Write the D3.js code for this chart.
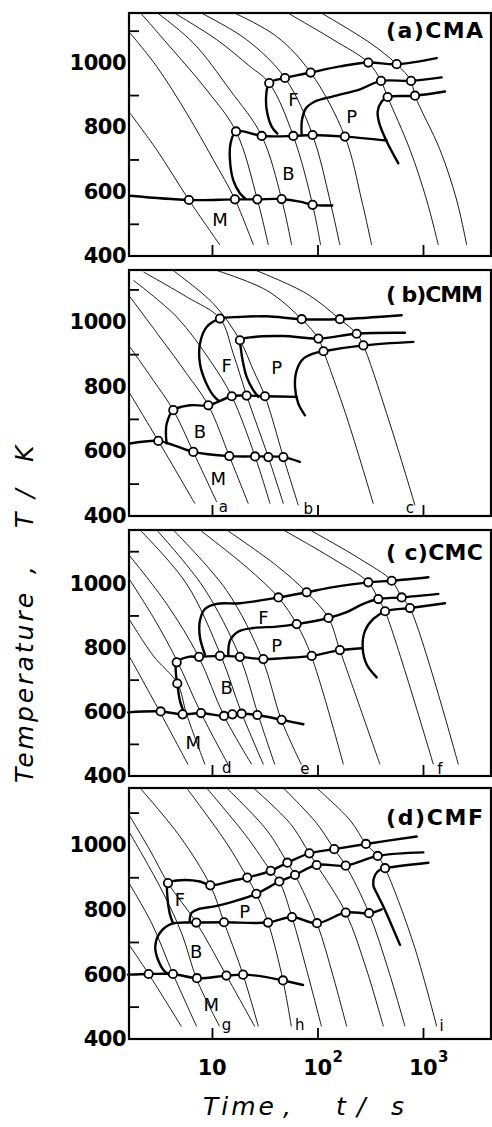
<!DOCTYPE html>
<html>
<head>
<meta charset="utf-8">
<script src="https://cdn.jsdelivr.net/npm/d3@7/dist/d3.min.js"></script>
<style>
  body { margin: 0; background: #fff; }
  text { font-family: "DejaVu Sans", sans-serif; fill: #000; }
</style>
</head>
<body>
<div id="chart"></div>
<script>
// ---- data (time in s, temperature in K) ----
var panelTitles = ["(a)CMA", "( b)CMM", "( c)CMC", "(d)CMF"];
var yTicks = [400, 600, 800, 1000];
var yMinor = [500, 700, 900, 1100];
var xTicks = [10, 100, 1000];
var xTickBase = ["10", "10", "10"];
var xTickExp = ["", "2", "3"];

// (a) CMA
var coolA = [
  [[1.67,844],[2.99,730],[6.05,574],[11.9,434]],
  [[1.67,1093],[2.99,989],[5.75,844],[10.3,699],[16.5,576],[24.7,434]],
  [[2.08,1157],[3.72,1062],[8.9,916],[16.9,787],[26.9,576],[34.2,434]],
  [[2.99,1157],[6.65,1062],[14.8,916],[29.6,773],[45.7,577],[56.9,434]],
  [[4.3,1157],[11.1,1072],[22.9,989],[34.9,937],[59,773],[89.9,559],[107,434]],
  [[7.69,1157],[21.3,1072],[49.2,953],[89.9,776],[131,574],[163,434]],
  [[15.9,1157],[41,1082],[86.1,970],[182,771],[262,574],[326,434]],
  [[51,1157],[141,1072],[303,1001],[400,944],[462,894],[753,730],[1083,574],[1397,434]],
  [[106,1157],[315,1062],[563,996],[770,944],[840,898],[1449,730],[2084,574],[2595,434]]
];
var fsA = [[41.6,780],[36.8,802],[33.4,844],[32.5,885],[34.9,937],[49.2,953],[86.1,970],[163,989],[303,1001],[563,996],[1349,1015]];
var psA = [[70.8,776],[71.3,823],[77.8,859],[94.6,880],[141,896],[253,918],[400,944],[770,944],[1503,955]];
var pfA = [[584,688],[453,756],[385,813],[372,849],[406,880],[462,894],[840,898],[1615,911]];
var bsA = [[20.6,579],[18.4,595],[15.9,636],[14.8,699],[15.0,750],[16.9,787],[29.6,773],[59,773],[89.9,776],[182,771],[453,759]];
var msA = [[1.67,587],[6.05,574],[16.5,576],[26.9,576],[45.7,577],[68.2,569],[89.9,559],[138,557]];
var dotsA = [[34.9,937],[49.2,953],[86.1,970],[303,1001],[563,996],[400,944],[770,944],[462,894],[840,898],
  [16.9,787],[29.6,773],[59,773],[89.9,776],[182,771],[6.05,574],[16.5,576],[26.9,576],[45.7,577],[89.9,559]];
var phaseA = [["F",59,885],["P",211,833],["B",52.9,657],["M",11.9,512]];
var letterA = [];

// (b) CMM
var coolB = [
  [[1.67,778],[3.10,632],[6.9,438]],
  [[1.67,922],[2.78,819],[4.30,727],[6.65,598],[11.1,443]],
  [[1.67,1077],[3.21,953],[5.75,840],[9.23,742],[14.6,585],[22.1,438]],
  [[1.80,1128],[4.63,1015],[9.57,881],[15.4,770],[25.6,584],[35.5,438]],
  [[2.24,1154],[5.75,1077],[11.9,1010],[15.9,902],[21.3,772],[34.2,582],[47.5,438]],
  [[4.30,1158],[10.3,1056],[18.4,943],[24.7,850],[31.8,770],[47.5,582],[65.8,433]],
  [[10.3,1162],[33,1097],[70.8,1008],[102,948],[114,909],[189,706],[338,438]],
  [[24.7,1162],[78.9,1087],[163,1008],[235,963],[272,927],[486,685],[840,433]]
];
var fsB = [[11.5,757],[10.3,772],[8.58,819],[7.69,871],[7.69,932],[8.9,984],[11.9,1010],[18.4,1015],[33,1017],[70.8,1008],[163,1008],[628,1020]];
var psB = [[27.5,768],[24.7,788],[21.3,830],[19.5,881],[18.7,922],[18.4,943],[24.7,953],[47.5,956],[102,948],[235,963],[675,966]];
var pfB = [[76.1,711],[65.8,747],[61.2,799],[63.5,850],[73.5,886],[91.3,902],[114,909],[272,927],[810,938]];
var bsB = [[3.72,624],[3.66,654],[3.72,685],[4.30,727],[6.19,742],[9.23,742],[15.4,770],[21.3,772],[31.8,770],[63.5,768]];
var msB = [[1.67,624],[3.10,632],[4.30,619],[6.65,598],[14.6,585],[25.6,584],[47.5,582],[68.2,567]];
var dotsB = [[11.9,1010],[70.8,1008],[163,1008],[18.4,943],[102,948],[235,963],[114,909],[272,927],
  [4.30,727],[9.23,742],[15.4,770],[21.3,772],[31.8,770],[3.10,632],[6.65,598],[14.6,585],[25.6,584],[34.2,582],[47.5,582]];
var phaseB = [["F",13.8,866],["P",41,860],["B",7.69,660],["M",11.5,515]];
var letterB = [["a",12.8,428],["b",81.9,423],["c",753,426]];

// (c) CMC
var coolC = [
  [[1.60,780],[3.19,601],[5.92,436]],
  [[1.60,894],[2.78,774],[4.69,689],[5.75,592],[8.58,436]],
  [[1.60,1019],[2.78,894],[4.69,757],[7.81,598],[14.2,436]],
  [[1.60,1092],[3.72,936],[7.48,771],[13.0,587],[23.8,436]],
  [[2.08,1166],[5.75,998],[12.1,776],[19.0,598],[30.7,436]],
  [[2.99,1166],[8.28,988],[18.3,772],[27.3,592],[39.3,436]],
  [[4.30,1166],[13.8,977],[30.0,764],[45.4,575],[70.3,436]],
  [[7.69,1166],[21.3,1050],[42.6,956],[63.5,873],[87.4,774],[176,436]],
  [[13.8,1166],[41.0,1055],[78.9,972],[127,892],[163,792],[391,436]],
  [[47.5,1166],[141,1076],[303,1003],[377,951],[437,913],[1253,436]],
  [[84.9,1166],[253,1076],[505,1008],[628,956],[753,923],[2163,436]]
];
var fsC = [[8.58,778],[7.69,832],[7.69,884],[8.58,920],[11.1,936],[18.4,938],[42.6,956],[78.9,972],[141,988],[303,1003],[505,1008],[1125,1019]];
var psC = [[14.3,776],[14.8,821],[17.8,850],[24.7,861],[41.0,865],[63.5,873],[127,892],[189,910],[272,936],[377,951],[628,956],[1397,967]];
var pfC = [[364,707],[292,748],[268,800],[282,852],[338,889],[437,913],[753,923],[1617,938]];
var bsC = [[5.43,598],[4.97,634],[4.69,688],[4.56,717],[4.63,754],[5.97,771],[7.54,771],[11.9,774],[18.4,771],[30.7,764],[47.5,767],[88.1,774],[163,792],[262,798]];
var msC = [[1.60,598],[3.26,601],[5.27,592],[7.87,596],[13.0,587],[15.6,592],[19.1,594],[26.9,590],[45.7,575],[73.5,561]];
var dotsC = [[42.6,956],[78.9,972],[303,1003],[505,1008],[63.5,873],[127,892],[377,951],[628,956],[437,913],[753,923],
  [4.63,754],[7.54,771],[11.9,774],[18.4,771],[30.7,764],[88.1,774],[163,792],[4.69,688],
  [3.26,601],[5.27,592],[7.87,596],[13.0,587],[15.6,592],[19.1,594],[26.9,590],[45.7,575]];
var phaseC = [["F",30.7,894],["P",41,806],["B",13.8,676],["M",6.65,504]];
var letterC = [["d",13.8,426],["e",76.1,421],["f",1449,421]];

// (d) CMF
var coolD = [
  [[1.60,696],[2.51,601],[5.12,439]],
  [[1.60,887],[2.68,758],[4.27,601],[7.15,439]],
  [[1.60,1046],[3.21,871],[5.16,727],[7.20,583],[11.8,439]],
  [[1.60,1098],[2.58,984],[3.83,882],[7.10,760],[13.7,596],[25.4,439]],
  [[2.08,1176],[4.97,1026],[9.64,875],[13.0,761],[19.7,599],[27.5,439]],
  [[5.75,1176],[13.8,1005],[21.6,899],[26.3,849],[34.0,760],[47.1,581],[56.5,439]],
  [[8.90,1176],[21.3,1026],[36.0,920],[43.5,887],[57.3,777],[78.9,614],[109,439]],
  [[13.8,1176],[33.0,1046],[51.8,945],[61.2,907],[98.9,758],[141,593],[189,439]],
  [[24.7,1176],[54.8,1067],[83.8,974],[98.2,938],[185,791],[292,614],[421,439]],
  [[47.5,1176],[98.2,1067],[144,987],[185,936],[308,789],[469,614],[675,439]],
  [[98.2,1176],[203,1077],[288,1003],[372,966],[437,928],[810,696],[1349,439]]
];
var fsD = [[4.27,758],[3.97,789],[3.78,840],[3.83,882],[4.63,890],[7.69,887],[9.64,875],[15.9,890],[21.6,899],[36.0,920],[51.8,945],[83.8,974],[144,987],[288,1003],[871,1026]];
var psD = [[6.14,762],[6.37,789],[7.36,801],[10.6,810],[15.9,825],[26.3,849],[43.5,887],[61.2,907],[98.2,938],[185,936],[372,966],[1007,977]];
var pfD = [[605,691],[421,810],[364,851],[338,876],[351,907],[391,923],[437,928],[1125,945]];
var bsD = [[3.97,599],[3.56,609],[3.08,645],[2.90,686],[3.19,727],[4.12,756],[7.10,760],[13.0,761],[34.0,760],[57.3,777],[98.9,758],[185,791],[308,789],[406,801]];
var msD = [[1.60,599],[2.51,601],[4.27,601],[7.20,588],[13.7,596],[19.7,599],[30.7,593],[47.1,581],[72.9,567]];
var dotsD = [[3.83,882],[9.64,875],[21.6,899],[36.0,920],[51.8,945],[83.8,974],[144,987],[288,1003],
  [26.3,849],[43.5,887],[61.2,907],[98.2,938],[185,936],[372,966],[437,928],
  [7.10,760],[13.0,761],[34.0,760],[57.3,777],[98.9,758],[185,791],[308,789],
  [2.51,601],[4.27,601],[7.20,588],[13.7,596],[19.7,599],[47.1,581]];
var phaseD = [["F",4.97,830],["P",20.4,794],["B",7.10,671],["M",9.86,506]];
var letterD = [["g",13.7,444],["h",67.8,444],["i",1503,439]];

var coolSets = [coolA, coolB, coolC, coolD];
var bandSets = [[fsA, psA, pfA, bsA, msA], [fsB, psB, pfB, bsB, msB], [fsC, psC, pfC, bsC, msC], [fsD, psD, pfD, bsD, msD]];
var dotSets = [dotsA, dotsB, dotsC, dotsD];
var phaseSets = [phaseA, phaseB, phaseC, phaseD];
var letterSets = [letterA, letterB, letterC, letterD];

// ---- layout ----
var svgWidth = 492;
var svgHeight = 1127;
var plotLeft = 129, plotRight = 491;
var panelBox = [
  {top: 13,  bottom: 256,  tTop: 1155, titleY: 38},
  {top: 270, bottom: 516,  tTop: 1160, titleY: 302},
  {top: 530, bottom: 776,  tTop: 1166, titleY: 560},
  {top: 788, bottom: 1039, tTop: 1176, titleY: 825}
];

var svg = d3.select("#chart")
  .append("svg")
  .attr("width", svgWidth)
  .attr("height", svgHeight);

var xScale = d3.scaleLog().domain([1.635, 4411]).range([plotLeft, plotRight]);

panelBox.forEach(function(box, i) {
  var yScale = d3.scaleLinear().domain([400, box.tTop]).range([box.bottom, box.top]);
  var g = svg.append("g");

  // clip for cooling curves
  g.append("clipPath").attr("id", "clip" + i)
    .append("rect")
    .attr("x", plotLeft).attr("y", box.top)
    .attr("width", plotRight - plotLeft).attr("height", box.bottom - box.top);

  var line = d3.line()
    .x(d => xScale(d[0]))
    .y(d => yScale(d[1]))
    .curve(d3.curveCatmullRom.alpha(0.5));

  // thin cooling curves
  g.append("g").attr("clip-path", "url(#clip" + i + ")")
    .selectAll("path")
    .data(coolSets[i])
    .enter()
    .append("path")
    .attr("d", line)
    .attr("fill", "none")
    .attr("stroke", "#000")
    .attr("stroke-width", 0.9);

  // transformation lines
  g.append("g")
    .selectAll("path")
    .data(bandSets[i])
    .enter()
    .append("path")
    .attr("d", line)
    .attr("fill", "none")
    .attr("stroke", "#000")
    .attr("stroke-width", 2.4)
    .attr("stroke-linecap", "round");

  // circles
  g.append("g")
    .selectAll("circle")
    .data(dotSets[i])
    .enter()
    .append("circle")
    .attr("cx", d => xScale(d[0]))
    .attr("cy", d => yScale(d[1]))
    .attr("r", 4.2)
    .attr("fill", "#fff")
    .attr("stroke", "#000")
    .attr("stroke-width", 1.8);

  // phase labels
  g.append("g")
    .selectAll("text")
    .data(phaseSets[i])
    .enter()
    .append("text")
    .attr("x", d => xScale(d[1]))
    .attr("y", d => yScale(d[2]))
    .attr("text-anchor", "middle")
    .attr("dominant-baseline", "central")
    .attr("font-size", 18)
    .text(d => d[0]);

  // curve letters
  g.append("g")
    .selectAll("text")
    .data(letterSets[i])
    .enter()
    .append("text")
    .attr("x", d => xScale(d[1]))
    .attr("y", d => yScale(d[2]))
    .attr("text-anchor", "middle")
    .attr("dominant-baseline", "central")
    .attr("font-size", 15)
    .text(d => d[0]);

  // frame
  g.append("rect")
    .attr("x", plotLeft).attr("y", box.top)
    .attr("width", plotRight - plotLeft).attr("height", box.bottom - box.top)
    .attr("fill", "none")
    .attr("stroke", "#000")
    .attr("stroke-width", 2.2);

  // y labels
  var yAxis = g.append("g")
    .attr("transform", `translate(${plotLeft}, 0)`)
    .call(d3.axisLeft(yScale).tickValues(yTicks).tickSize(0).tickPadding(3).tickFormat(d3.format("d")));
  yAxis.select(".domain").remove();
  yAxis.selectAll("text")
    .attr("font-family", "DejaVu Sans")
    .attr("font-weight", "bold")
    .attr("font-size", 21)
    .attr("letter-spacing", -0.5);

  // inward minor ticks
  var yMinorAxis = g.append("g")
    .attr("transform", `translate(${plotLeft}, 0)`)
    .call(d3.axisRight(yScale).tickValues(yMinor).tickSize(10).tickFormat(""));
  yMinorAxis.select(".domain").remove();
  yMinorAxis.selectAll("line").attr("stroke-width", 1.8);

  // inward x ticks
  var xAxis = g.append("g")
    .attr("transform", `translate(0, ${box.bottom})`)
    .call(d3.axisTop(xScale).tickValues(xTicks).tickSize(11).tickFormat(""));
  xAxis.select(".domain").remove();
  xAxis.selectAll("line").attr("stroke-width", 1.8);

  // panel title
  g.append("text")
    .attr("x", 483)
    .attr("y", box.titleY)
    .attr("text-anchor", "end")
    .attr("font-size", 22)
    .attr("font-weight", "bold")
    .attr("textLength", 97)
    .attr("lengthAdjust", "spacing")
    .style("white-space", "pre")
    .text(panelTitles[i]);
});

// x tick labels under the last panel
var lastBottom = panelBox[3].bottom;
var xLab = svg.append("g");
xTicks.forEach(function(t, k) {
  var px = xScale(t);
  xLab.append("text")
    .attr("x", px)
    .attr("y", lastBottom + 36)
    .attr("text-anchor", "middle")
    .attr("font-size", 21)
    .attr("font-weight", "bold")
    .attr("letter-spacing", -0.5)
    .text(xTickBase[k]);
  if (xTickExp[k]) {
    xLab.append("text")
      .attr("x", px + 15)
      .attr("y", lastBottom + 23)
      .attr("font-size", 15)
      .attr("font-weight", "bold")
      .text(xTickExp[k]);
  }
});

// x title
var xTitle = svg.append("text")
  .attr("y", 1115)
  .attr("font-size", 25)
  .attr("font-style", "italic")
  .attr("letter-spacing", 3);
xTitle.append("tspan").attr("x", 203).text("Time");
xTitle.append("tspan").attr("x", 283).text(",");
xTitle.append("tspan").attr("x", 336).text("t");
xTitle.append("tspan").attr("x", 357).text("/");
xTitle.append("tspan").attr("x", 391).text("s");

// y title
var yTitle = svg.append("text")
  .attr("transform", "translate(33, 0) rotate(-90)")
  .attr("font-size", 25)
  .attr("font-style", "italic")
  .attr("letter-spacing", 3);
yTitle.append("tspan").attr("x", -783).text("Temperature");
yTitle.append("tspan").attr("x", -574).text(",");
yTitle.append("tspan").attr("x", -528).text("T");
yTitle.append("tspan").attr("x", -498).text("/");
yTitle.append("tspan").attr("x", -462).text("K");
</script>
</body>
</html>
